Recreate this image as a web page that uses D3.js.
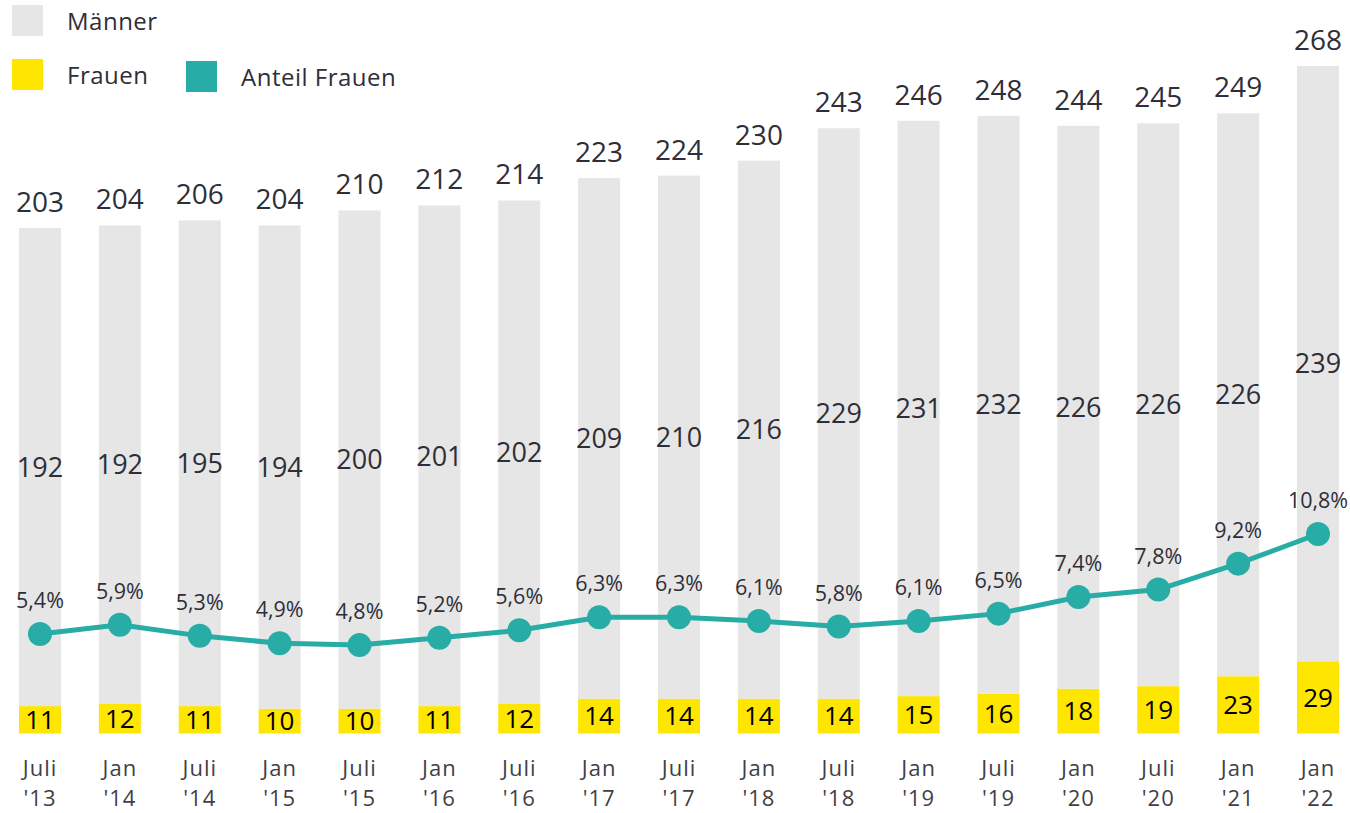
<!DOCTYPE html>
<html>
<head>
<meta charset="utf-8">
<script src="https://cdn.jsdelivr.net/npm/d3@7"></script>
<style>
html,body{margin:0;padding:0;background:#fff;}
svg{display:block;font-family:"Open Sans",sans-serif;}
</style>
</head>
<body>
<svg id="chart" width="1350" height="813"></svg>
<script>
const catLine1 = ["Juli","Jan","Juli","Jan","Juli","Jan","Juli","Jan","Juli","Jan","Juli","Jan","Juli","Jan","Juli","Jan","Jan"];
const catLine2 = ["'13","'14","'14","'15","'15","'16","'16","'17","'17","'18","'18","'19","'19","'20","'20","'21","'22"];
const maenner = [192,192,195,194,200,201,202,209,210,216,229,231,232,226,226,226,239];
const frauen  = [11,12,11,10,10,11,12,14,14,14,14,15,16,18,19,23,29];
const totals  = [203,204,206,204,210,212,214,223,224,230,243,246,248,244,245,249,268];
const anteil  = [5.4,5.9,5.3,4.9,4.8,5.2,5.6,6.3,6.3,6.1,5.8,6.1,6.5,7.4,7.8,9.2,10.8];

const fmtPct = v => v.toFixed(1).replace(".", ",") + "%";
const svg = d3.select("#chart");
const idx = d3.range(catLine1.length);

const x = d3.scaleBand().domain(idx).range([0.06, 1357.94]).paddingInner(0.474).paddingOuter(0.237);
const y = d3.scaleLinear().domain([0, 268]).range([733.5, 66]);
const y2 = d3.scaleLinear().domain([0, 10.8]).range([734, 534]);

const C_GREY = "#e6e6e6", C_YEL = "#ffe600", C_TEAL = "#27aca6", C_TXT = "#2e2e38";

// bars
const g = svg.append("g");
g.selectAll("rect.f").data(idx).join("rect")
  .attr("x", i => x(i)).attr("width", x.bandwidth())
  .attr("y", i => y(frauen[i])).attr("height", i => y(0) - y(frauen[i]))
  .attr("fill", C_YEL);
g.selectAll("rect.m").data(idx).join("rect")
  .attr("x", i => x(i)).attr("width", x.bandwidth())
  .attr("y", i => y(totals[i])).attr("height", i => y(frauen[i]) - y(totals[i]))
  .attr("fill", C_GREY);

const cx = i => x(i) + x.bandwidth() / 2;

// total labels
g.selectAll("text.t").data(idx).join("text")
  .attr("x", cx).attr("y", i => y(totals[i]) - 16)
  .attr("text-anchor", "middle").attr("font-size", 28).attr("fill", C_TXT)
  .text(i => totals[i]);
// maenner labels
g.selectAll("text.m").data(idx).join("text")
  .attr("x", cx).attr("y", i => (y(totals[i]) + y(frauen[i])) / 2)
  .attr("dy", "0.36em")
  .attr("text-anchor", "middle").attr("font-size", 27).attr("fill", C_TXT)
  .text(i => maenner[i]);
// frauen labels
g.selectAll("text.f").data(idx).join("text")
  .attr("x", cx).attr("y", i => (y(0) + y(frauen[i])) / 2)
  .attr("dy", "0.36em")
  .attr("text-anchor", "middle").attr("font-size", 26).attr("fill", "#000")
  .text(i => frauen[i]);

// line
const line = d3.line().x(i => cx(i)).y(i => y2(anteil[i]));
g.append("path").datum(idx).attr("d", line)
  .attr("fill", "none").attr("stroke", C_TEAL).attr("stroke-width", 5);
g.selectAll("circle").data(idx).join("circle")
  .attr("cx", cx).attr("cy", i => y2(anteil[i])).attr("r", 12).attr("fill", C_TEAL);
g.selectAll("text.p").data(idx).join("text")
  .attr("x", cx).attr("y", i => y2(anteil[i]) - 26)
  .attr("text-anchor", "middle").attr("font-size", 21.5).attr("fill", C_TXT)
  .text(i => fmtPct(anteil[i]));

// x axis labels (two lines)
const cat = g.selectAll("text.cat").data(idx).join("text")
  .attr("text-anchor", "middle").attr("font-size", 22).attr("fill", "#3f3f48")
  .attr("letter-spacing", 1);
cat.append("tspan").attr("x", cx).attr("y", 776).text(i => catLine1[i]);
cat.append("tspan").attr("x", cx).attr("y", 806).text(i => catLine2[i]);

// legend
const legend = [
  {label: "Männer", color: C_GREY, x: 12, y: 5, tx: 67, ty: 30},
  {label: "Frauen", color: C_YEL, x: 12, y: 59, tx: 67, ty: 84},
  {label: "Anteil Frauen", color: C_TEAL, x: 186, y: 61, tx: 241, ty: 86}
];
const lg = svg.append("g");
legend.forEach(d => {
  lg.append("rect").attr("x", d.x).attr("y", d.y).attr("width", 31).attr("height", 31).attr("fill", d.color);
  lg.append("text").attr("x", d.tx).attr("y", d.ty).attr("font-size", 24)
    .attr("fill", C_TXT).attr("letter-spacing", 0.5).text(d.label);
});
</script>
</body>
</html>
